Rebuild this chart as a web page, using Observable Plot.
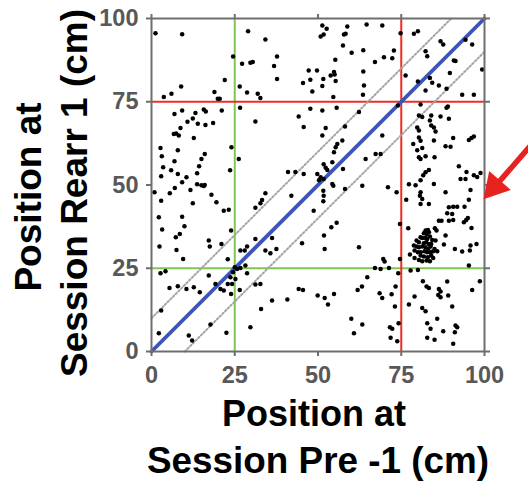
<!DOCTYPE html>
<html>
<head>
<meta charset="utf-8">
<script src="https://cdn.jsdelivr.net/npm/d3@7"></script>
<script src="https://cdn.jsdelivr.net/npm/@observablehq/plot@0.6"></script>
<style>
  html, body { margin: 0; padding: 0; background: #fff; }
  svg text { font-family: "Liberation Sans", Arial, Helvetica, sans-serif; }
  g[aria-label$="tick label"] text { font-size: 23.5px; font-weight: bold; fill: #585858; }
  g[aria-label$="-axis tick"] path { stroke: #6e6e6e; stroke-width: 2px; }
</style>
</head>
<body>
<div id="chart"></div>
<script>
// ---- data (cm) ----
const ticks = [0, 25, 50, 75, 100];
const greenLines = [25];
const redLines = [75];
const bandOffset = 10;

// upper-left region
const ptsUpperLeft = [
[1.2,95.6],[9.2,95.3],[29.0,96.2],[34.2,93.7],[24.5,88.6],[27.2,86.4],[29.7,86.7],[30.4,86.9],
[37.7,88.6],[36.8,85.7],[37.7,81.8],[47.2,84.4],[47.7,81.6],[45.5,80.6],[48.3,78.1],[22.0,81.5],
[8.9,79.6],[26.5,79.6],[28.7,77.8],[31.9,77.4],[32.7,76.1],[18.9,77.9],[19.9,75.9],[20.5,75.9],
[3.7,76.4],[6.0,77.4],[26.6,73.2],[21.1,72.4],[15.7,72.7],[16.3,72.1],[9.2,72.4],[6.9,71.3],
[13.2,71.6],[12.4,70.0],[10.8,69.0],[13.9,68.4],[16.2,68.0],[18.5,68.6],[31.2,69.1],[44.2,70.6],
[47.7,72.9],[45.7,67.4],[8.7,67.1],[6.7,65.3],[7.4,65.5],[8.2,64.9],[12.7,64.1],[2.7,61.1],
[7.9,60.4],[24.0,61.3],[3.1,58.6],[16.0,59.3],[15.0,57.8],[26.2,57.8],[6.9,57.1],[3.5,55.3],
[14.3,55.6],[5.9,54.4],[7.9,53.3],[2.9,52.6],[10.5,52.3],[13.7,53.5],[23.6,54.4],[9.2,50.8],
[41.0,53.9],[43.2,53.9],[45.7,53.3]
];
// upper-right region
const ptsUpperRight = [
[51.3,97.9],[52.6,96.9],[58.8,97.6],[64.6,98.2],[69.3,97.9],[51.7,95.2],[50.8,94.6],[58.3,95.4],
[57.8,95.2],[74.8,95.6],[78.8,95.4],[80.0,96.2],[57.5,91.9],[60.1,89.7],[63.6,90.5],[69.8,88.4],
[72.3,88.1],[72.8,90.4],[67.1,86.9],[55.2,87.6],[82.3,90.2],[82.8,88.7],[86.8,93.2],[87.6,92.2],
[90.8,87.4],[91.3,87.2],[94.3,93.6],[96.3,92.2],[99.3,84.7],[49.7,84.4],[51.6,81.8],[51.3,79.7],
[53.8,82.9],[54.8,83.9],[55.0,83.2],[55.3,81.2],[54.6,76.4],[63.6,84.1],[63.8,79.9],[63.5,77.1],
[76.3,82.9],[80.0,81.1],[82.3,78.4],[83.6,82.1],[84.3,80.7],[86.3,79.9],[88.6,78.9],[89.6,83.6],
[93.3,77.1],[96.8,77.1],[74.0,73.9],[51.3,72.4],[55.6,73.2],[62.3,71.9],[80.8,74.2],[88.6,73.2],
[89.0,73.6],[80.3,70.9],[81.3,70.4],[84.0,70.9],[83.6,69.4],[84.0,67.9],[84.8,67.3],[85.3,66.1],
[86.8,70.6],[89.3,69.9],[79.8,67.3],[80.3,66.4],[58.1,67.6],[52.3,67.1],[51.3,64.9],[57.3,63.4],
[55.8,62.3],[55.3,61.3],[54.8,59.8],[69.3,64.9],[80.3,64.3],[80.8,63.3],[78.6,62.3],[81.3,61.1],
[84.8,63.4],[90.6,64.1],[95.3,63.5],[96.1,64.1],[96.8,64.6],[88.3,61.6],[89.8,61.5],[79.8,60.4],
[80.3,58.3],[80.8,57.8],[82.3,58.6],[85.0,58.3],[64.3,57.8],[67.3,59.3],[68.8,59.3],[51.7,56.2],
[52.3,55.2],[52.8,54.5],[54.3,56.8],[57.5,54.8],[83.3,54.5],[82.3,53.8],[81.6,52.9],[80.8,51.4],
[92.3,55.6],[94.6,53.9],[96.8,52.9],[97.8,52.4],[98.8,53.6],[92.8,51.8],[94.3,51.8],[49.8,53.3],
[50.8,52.3],[50.3,51.4],[51.7,51.8]
];
// lower-left region
const ptsLowerLeft = [
[0.9,47.8],[5.5,47.5],[7.0,49.1],[13.7,50.2],[15.0,49.9],[15.7,49.7],[16.0,50.0],[11.7,48.5],
[18.0,47.1],[2.9,45.3],[12.4,44.5],[19.5,44.8],[21.7,42.3],[23.2,42.6],[2.2,40.3],[9.2,40.5],
[9.9,37.6],[3.2,36.6],[8.5,35.3],[7.3,34.3],[23.9,36.3],[17.2,33.3],[2.4,31.5],[7.5,30.5],
[17.5,31.5],[21.0,32.3],[9.5,27.8],[22.9,27.7],[26.7,30.3],[28.0,30.3],[28.7,31.5],[31.2,33.8],
[34.2,30.3],[35.7,29.5],[36.2,34.1],[37.5,30.8],[31.2,43.2],[32.7,44.5],[33.2,45.5],[34.2,47.5],
[42.0,46.8],[48.7,42.3],[45.2,32.5],[2.7,23.5],[4.2,24.1],[25.0,25.3],[25.7,24.8],[26.7,25.1],
[28.2,25.8],[24.5,23.8],[23.7,22.3],[25.2,21.8],[24.2,20.3],[22.9,20.3],[28.7,23.5],[17.2,22.8],
[19.2,20.3],[20.7,18.8],[21.7,18.3],[23.9,17.3],[26.5,18.5],[5.4,19.1],[7.9,19.6],[10.5,18.8],
[12.7,19.3],[14.5,17.8],[31.2,20.1],[32.7,20.3],[36.2,15.3],[40.8,15.6],[44.2,18.8],[45.5,18.5],
[32.9,12.8],[2.9,12.3],[17.7,8.1],[29.7,7.3],[2.2,5.5],[11.2,4.8],[12.2,3.3],[22.5,5.6]
];
// lower-right region
const ptsLowerRight = [
[51.6,48.3],[51.7,46.8],[54.3,50.3],[54.6,49.8],[51.6,45.1],[58.1,48.8],[63.3,49.8],[71.0,49.3],
[73.6,47.8],[77.3,50.2],[79.3,49.9],[84.8,50.3],[88.3,47.8],[95.8,48.5],[95.3,45.6],[80.8,47.8],
[80.6,46.8],[81.3,45.8],[80.8,44.3],[83.3,44.3],[76.5,45.6],[89.3,43.3],[90.6,43.5],[91.8,43.5],
[94.0,43.5],[88.8,41.5],[90.3,41.3],[86.3,39.3],[87.1,39.3],[89.3,39.3],[90.6,39.5],[93.8,38.8],
[94.5,39.5],[95.0,40.1],[96.1,37.1],[74.6,38.3],[77.1,37.0],[85.1,37.0],[85.6,36.3],
[88.3,34.8],[87.8,32.1],[91.1,30.8],[93.3,30.0],[95.6,30.3],[95.8,31.8],[97.6,32.3],[74.6,27.8],
[69.6,27.8],[70.0,27.0],[62.3,31.3],[51.8,34.8],[52.0,30.8],[54.0,37.3],[55.6,38.7],[67.1,25.1],
[68.8,24.8],[71.3,25.1],[74.1,23.5],[77.8,24.3],[80.0,24.5],[95.3,25.8],[64.8,22.3],[63.2,19.5],
[61.9,18.5],[81.5,21.1],[82.6,19.5],[83.3,19.1],[88.8,21.0],[98.6,21.1],[96.3,18.5],[86.3,18.8],
[86.8,18.0],[86.1,17.0],[86.8,16.3],[89.1,16.8],[73.3,19.5],[68.5,17.5],[69.3,16.1],[72.1,17.2],
[49.9,16.8],[52.0,16.1],[53.0,14.1],[54.8,17.3],[79.0,16.5],[77.3,14.1],[73.1,13.5],[81.3,13.1],
[82.3,12.1],[90.3,13.5],[60.0,9.8],[63.3,8.1],[60.8,5.5],[71.6,7.3],[72.3,6.8],[74.2,8.5],
[71.8,4.1],[73.8,3.1],[82.8,8.5],[83.8,6.8],[85.8,9.8],[87.6,6.1],[82.8,4.1],[85.0,3.5],
[91.3,7.8],[91.8,7.3],[91.1,5.8],[90.6,2.3]
];
// dense cluster (x ~ 78-86, y ~ 27-37)
const ptsCluster = [
[82.3,36.3],[83.0,36.5],[81.8,35.5],[82.6,35.3],[83.3,35.8],[80.8,34.3],[81.3,34.1],[82.3,34.1],
[82.8,33.8],[83.6,34.5],[84.3,33.5],[79.6,33.3],[80.3,32.8],[81.8,32.5],[82.5,32.8],[83.3,32.3],
[84.0,32.3],[85.3,33.3],[78.8,31.8],[79.6,31.5],[80.3,31.3],[81.3,31.5],[82.3,31.3],[83.1,30.8],
[83.8,31.5],[85.0,30.8],[85.8,30.1],[79.0,30.3],[80.0,29.8],[80.8,29.8],[82.0,30.1],[82.8,29.8],
[83.8,29.8],[84.6,30.1],[80.8,28.8],[81.8,28.5],[83.0,28.3],[84.0,28.8],[84.6,28.1],[80.3,27.5],
[81.3,27.1],[82.6,27.3],[83.6,27.1],[79.0,28.1],[77.6,29.1]
];
// red annotation arrow (in data units, outside the frame)
const arrowShaft = [[115.5,63.8],[104.7,51.3]];
const arrowHead = [[103.0,49.5]];

const xTitle = ["Position at", "Session Pre -1 (cm)"];
const yTitle = ["Position at", "Session Rearr 1 (cm)"];

// ---- build ----
const points = [...ptsUpperLeft, ...ptsUpperRight, ...ptsLowerLeft, ...ptsLowerRight, ...ptsCluster]
  .map(([x, y]) => ({x, y}));
const lo = ticks[0], hi = ticks[ticks.length - 1];
const diag = [{x: lo, y: lo}, {x: hi, y: hi}];
const upper = [{x: lo, y: lo + bandOffset}, {x: hi - bandOffset, y: hi}];
const lower = [{x: lo + bandOffset, y: lo}, {x: hi, y: hi - bandOffset}];
const shaft = arrowShaft.map(([x, y]) => ({x, y}));
const head = arrowHead.map(([x, y]) => ({x, y}));

const GREEN = "#7fc653", RED = "#ec2f25", BLUE = "#3b56b5", AXIS = "#6e6e6e", ARROW = "#e8221e";

const chart = Plot.plot({
  width: 528,
  height: 481,
  marginLeft: 151,
  marginRight: 44,
  marginTop: 18,
  marginBottom: 130,
  x: {domain: [lo, hi]},
  y: {domain: [lo, hi]},
  style: {background: "#fff", fontFamily: "Liberation Sans, Arial, sans-serif", overflow: "visible"},
  marks: [
    Plot.ruleX(greenLines, {stroke: GREEN, strokeWidth: 2}),
    Plot.ruleY(greenLines, {stroke: GREEN, strokeWidth: 2}),
    Plot.ruleX(redLines, {stroke: RED, strokeWidth: 2}),
    Plot.ruleY(redLines, {stroke: RED, strokeWidth: 2}),
    Plot.line(upper, {x: "x", y: "y", stroke: "#a4a4a4", strokeWidth: 2, strokeDasharray: "1.6,2.2"}),
    Plot.line(lower, {x: "x", y: "y", stroke: "#a4a4a4", strokeWidth: 2, strokeDasharray: "1.6,2.2"}),
    Plot.line(diag, {x: "x", y: "y", stroke: BLUE, strokeWidth: 3.8}),
    Plot.dot(points, {x: "x", y: "y", r: 2.25, fill: "#000", stroke: "none"}),
    Plot.frame({stroke: AXIS, strokeWidth: 2}),
    Plot.axisX({ticks, anchor: "bottom", tickSize: 5, tickPadding: 10, label: null}),
    Plot.axisY({ticks, anchor: "left", tickSize: 5, tickPadding: 8, label: null}),
    Plot.axisX({ticks, anchor: "top", tickSize: 5, tickFormat: () => "", label: null}),
    Plot.axisY({ticks, anchor: "right", tickSize: 5, tickFormat: () => "", label: null}),
    Plot.line(shaft, {x: "x", y: "y", stroke: ARROW, strokeWidth: 5.5}),
    Plot.dot(head, {x: "x", y: "y", symbol: "triangle", r: 10.7, rotate: 221.4, fill: ARROW, stroke: "none"})
  ]
});
document.getElementById("chart").appendChild(chart);

// axis titles
const svg = d3.select(chart);
const tf = "Liberation Sans, Arial, sans-serif";
svg.append("text").attr("x", 314).attr("y", 426).attr("text-anchor", "middle")
  .attr("font-size", 36).attr("font-weight", "bold").attr("fill", "#000").attr("font-family", tf)
  .text(xTitle[0]);
svg.append("text").attr("x", 318).attr("y", 473).attr("text-anchor", "middle")
  .attr("font-size", 36).attr("font-weight", "bold").attr("fill", "#000").attr("font-family", tf)
  .attr("textLength", 342).attr("lengthAdjust", "spacingAndGlyphs")
  .text(xTitle[1]);
svg.append("text").attr("transform", "translate(41,197) rotate(-90)").attr("text-anchor", "middle")
  .attr("font-size", 37).attr("font-weight", "bold").attr("fill", "#000").attr("font-family", tf)
  .text(yTitle[0]);
svg.append("text").attr("transform", "translate(87,193) rotate(-90)").attr("text-anchor", "middle")
  .attr("font-size", 37).attr("font-weight", "bold").attr("fill", "#000").attr("font-family", tf)
  .text(yTitle[1]);
</script>
</body>
</html>
